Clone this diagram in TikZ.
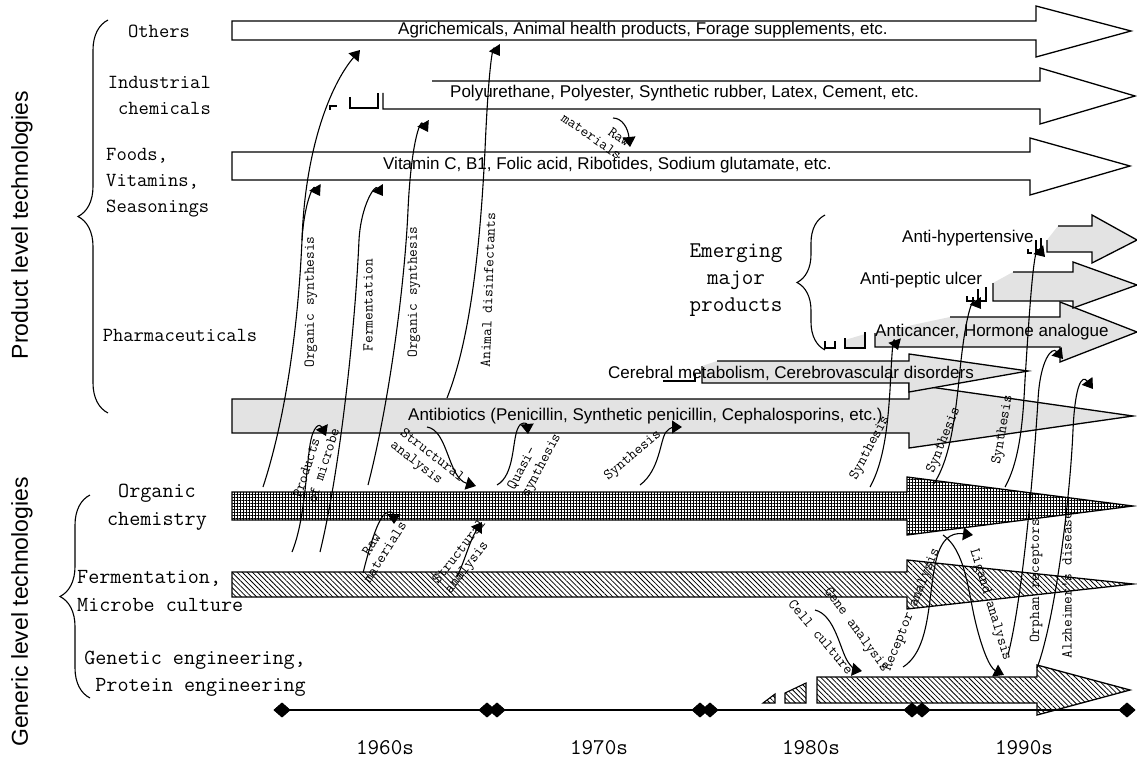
\documentclass[tikz,border=0pt]{standalone}
\usepackage{fontspec}
\newfontfamily\arial{Liberation Sans}
\usetikzlibrary{arrows.meta,patterns.meta,shapes.geometric,decorations.pathreplacing}
\begin{document}
\begin{tikzpicture}[x=1pt,y=-1pt,
  bar/.style={draw=black,line width=1.3pt,line join=miter},
  whitebar/.style={bar,fill=white},
  greybar/.style={bar,fill=gray!22},
  gridbar/.style={bar,preaction={fill=white},pattern={Hatch[distance=3pt,line width=0.65pt]}},
  hatchbar/.style={bar,preaction={fill=white},pattern={Lines[angle=-45,distance=3.6pt,line width=0.8pt]}},
  frag/.style={line width=1.1pt},
  conn/.style={line width=1.1pt,-{Triangle[length=10pt,width=13pt]}},
  clab/.style={font=\ttfamily\fontsize{15}{15.5}\selectfont,inner sep=0pt},
  catlab/.style={font=\ttfamily\fontsize{20}{26}\selectfont,inner sep=0pt},
  genlab/.style={font=\ttfamily\fontsize{21.5}{27.5}\selectfont,inner sep=0pt},
  yrlab/.style={font=\ttfamily\fontsize{22.5}{25}\selectfont,inner sep=0pt},
  slab/.style={font=\arial\fontsize{17}{20}\selectfont,inner sep=0pt,anchor=west},
  brc/.style={decorate,decoration={brace,amplitude=30pt},line width=1.1pt},
  dia/.style={diamond,fill=black,minimum width=17pt,minimum height=15pt,inner sep=0pt}]
\useasboundingbox (0,0) rectangle (1137,773);

% ---- side titles
\node[font=\arial\fontsize{23}{26}\selectfont,rotate=90] (pt) at (22,225) {Product level technologies};
\node[font=\arial\fontsize{23}{26}\selectfont,rotate=90] (gt) at (22,612) {Generic level technologies};

% ---- braces
\draw[brc] (108,413) -- (108,20);
\draw[brc] (90,698) -- (90,495);
\draw[brc,decoration={brace,amplitude=28pt}] (825,350) -- (825,215);

% ---- category labels
\node[catlab] (others) at (159,31) {Others};
\node[catlab,align=right,anchor=east] (indus) at (211,95) {Industrial\\chemicals};
\node[catlab,align=left,anchor=west] (foods) at (106,183) {Foods,\\Vitamins,\\Seasonings};
\node[catlab] (pharma) at (180,335) {Pharmaceuticals};
\node[genlab,align=center] (orgc) at (157,507) {Organic\\chemistry};
\node[genlab,align=left,anchor=west] (ferm) at (77,591) {Fermentation,\\Microbe culture};
\node[genlab,align=right,anchor=east] (gen) at (306,674) {Genetic engineering,\\Protein engineering};
\node[genlab,font=\ttfamily\fontsize{22.5}{27}\selectfont,align=center] (emerg) at (736,280) {Emerging\\major\\products};

% ---- product arrows
\draw[whitebar] (232,21)--(1036,21)--(1036,6)--(1131,31)--(1036,57)--(1036,40)--(232,40)--cycle;
\node[slab] (tothers) at (398,30) {Agrichemicals, Animal health products, Forage supplements, etc.};

\draw[bar] (432,81)--(1040,81)--(1040,68)--(1135,96)--(1040,124)--(1040,109)--(383,109)--(383,93);
\draw[frag] (350,97)--(350,108)--(378,108)--(378,93);
\draw[frag] (330,110)--(330,106)--(337,106);
\node[slab] (tindus) at (450,93) {Polyurethane, Polyester, Synthetic rubber, Latex, Cement, etc.};

\draw[whitebar] (232,152)--(1030,152)--(1030,138)--(1130,166)--(1030,195)--(1030,180)--(232,180)--cycle;
\node[slab] (tfoods) at (383,165) {Vitamin C, B1, Folic acid, Ribotides, Sodium glutamate, etc.};

% pharmaceuticals
\draw[greybar] (232,399)--(909,399)--(909,384)--(1133,416)--(909,448)--(909,433)--(232,433)--cycle;
\node[slab] (tanti) at (408,416) {Antibiotics (Penicillin, Synthetic penicillin, Cephalosporins, etc.)};

\fill[gray!22] (702,383)--(702,366)--(717,361)--(909,361)--(909,354)--(1028,371)--(909,392)--(909,383)--cycle;
\draw[bar] (717,361)--(909,361)--(909,354)--(1028,371)--(909,392)--(909,383)--(702,383)--(702,366);
\draw[frag] (663,381)--(695,381)--(695,374);
\node[slab] (tcere) at (608,373) {Cerebral metabolism, Cerebrovascular disorders};

\fill[gray!22] (875,347)--(875,333)--(950,317)--(1060,317)--(1060,302)--(1137,332)--(1060,362)--(1060,347)--cycle;
\draw[bar] (950,317)--(1060,317)--(1060,302)--(1137,332)--(1060,362)--(1060,347)--(875,347)--(875,333);
\draw[frag] (825,341)--(825,348)--(835,348)--(835,341);
\fill[gray!22] (845,348)--(845,340)--(865,334)--(865,348)--cycle;
\draw[frag] (845,338)--(845,348)--(865,348)--(865,332);
\node[slab] (tcancer) at (875,332) {Anticancer, Hormone analogue};

\fill[gray!22] (993,301)--(993,283)--(1013,272)--(1073,272)--(1073,262)--(1137,285)--(1073,308)--(1073,301)--cycle;
\draw[bar] (1013,272)--(1073,272)--(1073,262)--(1137,285)--(1073,308)--(1073,301)--(993,301)--(993,283);
\draw[frag] (967,296)--(967,301)--(973,301)--(973,297);
\draw[frag] (978,289)--(978,301)--(986,301)--(986,287);
\node[slab] (tpeptic) at (860,280) {Anti-peptic ulcer};

\fill[gray!22] (1047,252)--(1047,240)--(1058,226)--(1092,226)--(1092,215)--(1137,240)--(1092,263)--(1092,252)--cycle;
\draw[bar] (1058,226)--(1092,226)--(1092,215)--(1137,240)--(1092,263)--(1092,252)--(1047,252)--(1047,240);
\draw[frag] (1028,249)--(1028,253)--(1032,253);
\draw[frag] (1036,240)--(1036,252)--(1041,252)--(1041,238);
\node[slab] (thyper) at (902,238) {Anti-hypertensive};

% ---- generic arrows
\draw[gridbar] (232,492)--(907,492)--(907,477)--(1133,506)--(907,535)--(907,520)--(232,520)--cycle;
\draw[hatchbar] (232,572)--(907,572)--(907,560)--(1133,584)--(907,609)--(907,597)--(232,597)--cycle;
\draw[hatchbar] (817,677)--(1037,677)--(1037,665)--(1130,690)--(1037,715)--(1037,703)--(817,703)--cycle;
\draw[hatchbar,line width=1.1pt] (763,703)--(775,703)--(775,694)--cycle;
\draw[hatchbar,line width=1.1pt] (785,703)--(785,693)--(806,683)--(806,703)--cycle;

% ---- connector end points
\coordinate (s1) at (263,487);  \coordinate (e1) at (320,196);
\coordinate (s1b) at (302,240); \coordinate (e1b) at (360,50);
\coordinate (s2) at (320,552);  \coordinate (e2) at (383,196);
\coordinate (s3) at (368,485);  \coordinate (e3) at (428,132);
\coordinate (s4) at (447,398);  \coordinate (e4) at (500,56);
\coordinate (s5) at (292,552);  \coordinate (e5) at (326,436);
\coordinate (s6) at (427,427);  \coordinate (e6) at (476,486);
\coordinate (s7) at (497,485);  \coordinate (e7) at (528,434);
\coordinate (s8) at (363,573);  \coordinate (e8) at (394,524);
\coordinate (s9) at (457,577);  \coordinate (e9) at (482,522);
\coordinate (s10) at (640,485); \coordinate (e10) at (682,427);
\coordinate (s11) at (870,487); \coordinate (e11) at (898,350);
\coordinate (s12) at (933,485); \coordinate (e12) at (981,309);
\coordinate (s13) at (1005,487);\coordinate (e13) at (1045,257);
\coordinate (s14) at (1008,655);\coordinate (e14) at (1063,359);
\coordinate (s15) at (1037,668);\coordinate (e15) at (1093,389);
\coordinate (s16) at (815,610); \coordinate (e16) at (862,671);
\coordinate (s17) at (903,667); \coordinate (e17) at (973,535);
\coordinate (s18) at (943,535); \coordinate (e18) at (1004,675);
\coordinate (s19) at (613,118); \coordinate (e19) at (630,147);

% ---- connectors
\draw[conn] (s1) .. controls (285,420) and (298,330) .. (302,240) .. controls (304,205) and (313,184) .. (e1);
\draw[conn] (s1b) .. controls (305,150) and (330,85) .. (e1b);
\draw[conn] (s2) .. controls (340,470) and (355,330) .. (359,240) .. controls (361,205) and (375,184) .. (e2);
\draw[conn] (s3) .. controls (390,400) and (405,280) .. (408,210) .. controls (411,145) and (420,118) .. (e3);
\draw[conn] (s4) .. controls (470,340) and (480,250) .. (485,150) .. controls (488,80) and (492,44) .. (e4);
\draw[conn] (s5) .. controls (305,520) and (306,470) .. (310,445) .. controls (313,425) and (320,423) .. (e5);
\draw[conn] (s6) .. controls (448,430) and (448,478) .. (e6);
\draw[conn] (s7) .. controls (515,475) and (512,440) .. (518,428) .. controls (521,421) and (527,423) .. (e7);
\draw[conn] (s8) .. controls (370,545) and (378,518) .. (386,513) .. controls (391,510) and (394,514) .. (e8);
\draw[conn] (s9) .. controls (465,560) and (470,540) .. (e9);
\draw[conn] (s10) .. controls (660,470) and (660,440) .. (666,432) .. controls (670,427) and (675,427) .. (e10);
\draw[conn] (s11) .. controls (885,460) and (888,420) .. (890,390) .. controls (892,350) and (893,336) .. (e11);
\draw[conn] (s12) .. controls (950,460) and (955,420) .. (960,370) .. controls (965,320) and (972,296) .. (e12);
\draw[conn] (s13) .. controls (1020,460) and (1023,420) .. (1025,380) .. controls (1030,300) and (1034,245) .. (e13);
\draw[conn] (s14) .. controls (1022,600) and (1033,480) .. (1038,400) .. controls (1040,360) and (1052,346) .. (e14);
\draw[conn] (s15) .. controls (1055,620) and (1070,500) .. (1073,430) .. controls (1075,385) and (1082,374) .. (e15);
\draw[conn] (s16) .. controls (835,615) and (840,650) .. (848,662) .. controls (852,668) and (856,670) .. (e16);
\draw[conn] (s17) .. controls (930,650) and (928,600) .. (935,565) .. controls (940,540) and (950,532) .. (e17);
\draw[conn] (s18) .. controls (965,550) and (968,590) .. (975,620) .. controls (982,650) and (990,668) .. (e18);
\draw[conn] (s19) .. controls (622,118) and (628,128) .. (e19);

% ---- connector labels
\node[clab,rotate=90] (l1) at (311,302) {Organic synthesis};
\node[clab,rotate=90] (l2) at (368,305) {Fermentation};
\node[clab,rotate=90] (l3) at (414,292) {Organic synthesis};
\node[clab,rotate=88] (l4) at (488,290) {Animal disinfectants};
\node[clab,rotate=72,align=left] (l5) at (316,463) {Products\\of microbe};
\node[clab,rotate=-38,align=left] (l6) at (427,462) {Structural\\analysis};
\node[clab,rotate=62,align=left] (l7) at (535,462) {Quasi-\\synthesis};
\node[clab,rotate=58,align=center] (l8) at (378,548) {Raw\\materials};
\node[clab,rotate=52,align=left] (l9) at (466,557) {Structural\\analysis};
\node[clab,rotate=40] (l10) at (633,456) {Synthesis};
\node[clab,rotate=62] (l11) at (870,448) {Synthesis};
\node[clab,rotate=68] (l12) at (944,440) {Synthesis};
\node[clab,rotate=80] (l13) at (1003,430) {Synthesis};
\node[clab,rotate=90] (l14) at (1036,581) {Orphan receptors};
\node[clab,rotate=90] (l15) at (1067,585) {Alzheimer's disease};
\node[clab,rotate=-50] (l16) at (821,637) {Cell culture};
\node[clab,rotate=-54] (l17) at (856,630) {Gene analysis};
\node[clab,rotate=68] (l18) at (912,610) {Receptor analysis};
\node[clab,rotate=-73] (l19) at (990,605) {Ligand analysis};
\node[clab,rotate=-35,align=right] (l20) at (596,130) {Raw\\materials};

% ---- timeline
\node[dia] (d1) at (282,710) {};
\node[dia] (d2) at (487,710) {};
\node[dia] (d3) at (497,710) {};
\node[dia] (d4) at (700,710) {};
\node[dia] (d5) at (710,710) {};
\node[dia] (d6) at (912,710) {};
\node[dia] (d7) at (922,710) {};
\node[dia] (d8) at (1127,710) {};
\draw[line width=2.5pt] (d1.center) -- (d8.center);
\foreach \d in {d1,d2,d3,d4,d5,d6,d7,d8} \node[dia] at (\d) {};
\node[yrlab] (y60) at (385,748) {1960s};
\node[yrlab] (y70) at (599,748) {1970s};
\node[yrlab] (y80) at (811,748) {1980s};
\node[yrlab] (y90) at (1024,748) {1990s};
\end{tikzpicture}
\end{document}
